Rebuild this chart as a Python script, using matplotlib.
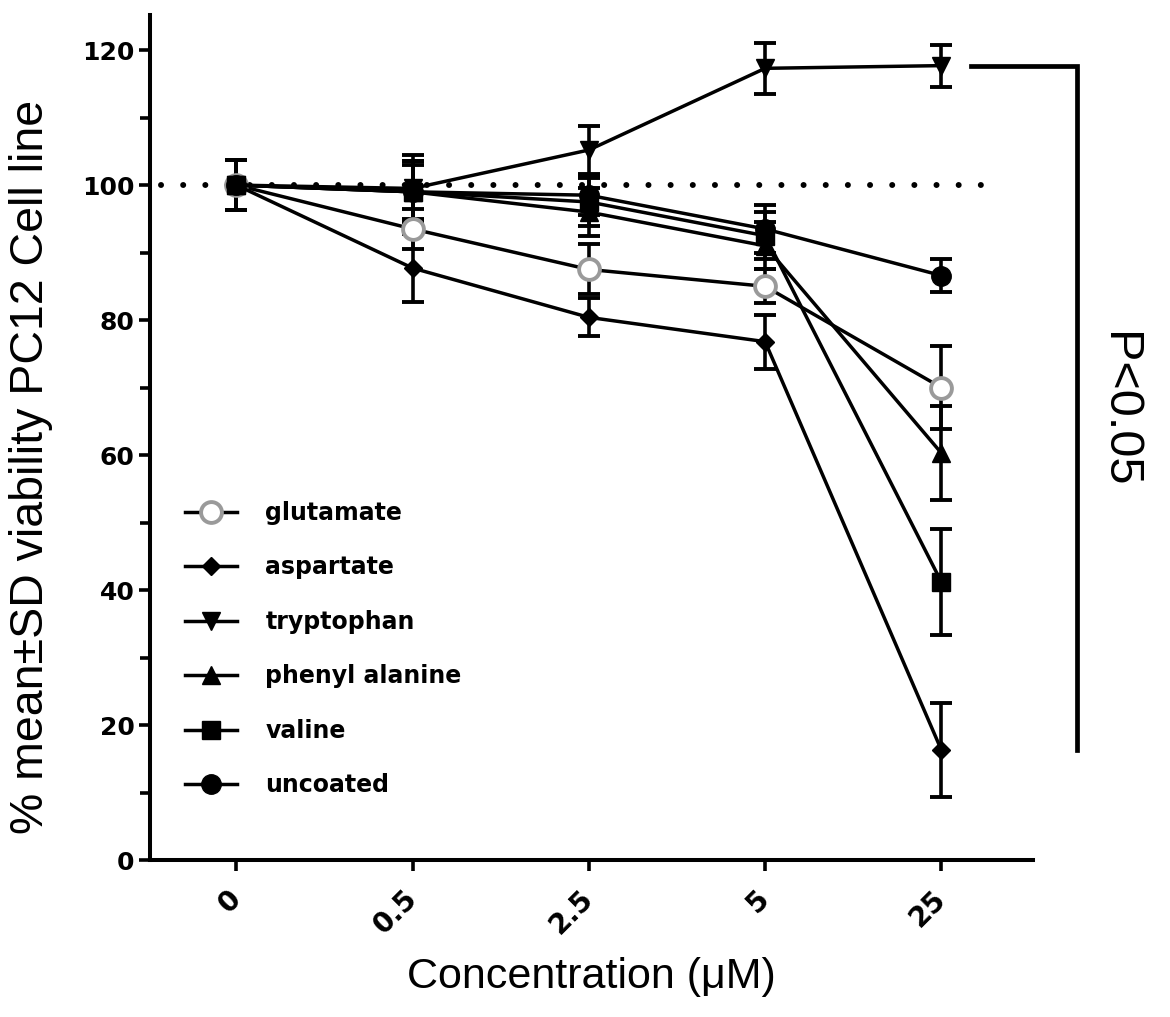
import matplotlib
matplotlib.use("Agg")
import matplotlib.pyplot as plt
from matplotlib.ticker import MultipleLocator

# ---- data ----
categories = ["0", "0.5", "2.5", "5", "25"]
series_names = ["glutamate", "aspartate", "tryptophan", "phenyl alanine", "valine", "uncoated"]
glutamate = [100, 93.5, 87.5, 85.0, 70.0]
glutamate_sd = [3.7, 3.0, 3.7, 2.5, 6.2]
aspartate = [100, 87.7, 80.4, 76.8, 16.3]
aspartate_sd = [3.7, 5.0, 2.8, 4.0, 7.0]
tryptophan = [100, 99.5, 105.2, 117.3, 117.7]
tryptophan_sd = [3.7, 5.0, 3.6, 3.8, 3.1]
phenyl_alanine = [100, 99.0, 96.0, 91.0, 60.3]
phenyl_alanine_sd = [3.7, 4.0, 3.5, 3.5, 7.0]
valine = [100, 99.0, 97.5, 92.5, 41.2]
valine_sd = [3.7, 4.5, 3.5, 3.5, 7.8]
uncoated = [100, 99.0, 98.5, 93.5, 86.6]
uncoated_sd = [3.7, 4.5, 3.0, 3.5, 2.5]
reference_level = 100
p_text = "P<0.05"

fig = plt.figure(figsize=(11.7, 10.17), dpi=100)
ax = fig.add_axes([150/1170, 1-860/1017, (1033-150)/1170, (860-15)/1017])

xs = list(range(len(categories)))
bold = "DejaVu Sans"
reg = "Liberation Sans"

styles = [
    (glutamate, glutamate_sd, dict(marker="o", ms=15, mfc="white", mec="#9a9a9a", mew=2.8)),
    (aspartate, aspartate_sd, dict(marker="D", ms=9, mfc="black", mec="black", mew=1)),
    (tryptophan, tryptophan_sd, dict(marker="v", ms=13, mfc="black", mec="black", mew=1)),
    (phenyl_alanine, phenyl_alanine_sd, dict(marker="^", ms=13, mfc="black", mec="black", mew=1)),
    (valine, valine_sd, dict(marker="s", ms=13, mfc="black", mec="black", mew=1)),
    (uncoated, uncoated_sd, dict(marker="o", ms=14, mfc="black", mec="black", mew=1)),
]

ax.plot([-0.43, 4.25], [reference_level, reference_level], linestyle=(0, (0.01, 3.7)),
        color="black", lw=4.3, dash_capstyle="round", zorder=1)

handles = []
for (vals, sd, st), name in zip(styles, series_names):
    ax.errorbar(xs, vals, yerr=sd, fmt="none", ecolor="black", elinewidth=2.6,
                capsize=8, capthick=2.8, zorder=2)
for (vals, sd, st), name in zip(styles, series_names):
    h, = ax.plot(xs, vals, color="black", lw=2.5, label=name, zorder=3, **st)
    handles.append(h)

ax.set_xlim(-0.49, 4.52)
ax.set_ylim(0, 125.2)
ax.set_xticks(xs)
ax.set_xticklabels(categories, rotation=45, ha="right", va="center", rotation_mode="anchor",
                   fontfamily=bold, fontweight="bold", fontsize=20)
ax.yaxis.set_major_locator(MultipleLocator(20))
ax.yaxis.set_minor_locator(MultipleLocator(10))
for lab in ax.get_yticklabels():
    lab.set_fontfamily(bold)
    lab.set_fontweight("bold")
    lab.set_fontsize(18)
ax.tick_params(axis="y", which="major", direction="out", length=8, width=2.6, pad=3)
ax.tick_params(axis="y", which="minor", direction="out", length=7, width=2.6)
ax.tick_params(axis="x", which="major", direction="out", length=8, width=2.6, pad=17)
for s in ["top", "right"]:
    ax.spines[s].set_visible(False)
for s in ["left", "bottom"]:
    ax.spines[s].set_linewidth(2.9)

ax.set_xlabel("Concentration (\u03bcM)", fontfamily=reg, fontsize=31)
ax.xaxis.set_label_coords(0.5, -(977 - 860) / 845, transform=ax.transAxes)
ax.xaxis.label.set_va("center")
ax.set_ylabel("% mean\u00b1SD viability PC12 Cell line", fontfamily=reg, fontsize=33.5)
ax.yaxis.set_label_coords(-(150 - 31) / 883, (860 - 467) / 845, transform=ax.transAxes)
ax.yaxis.label.set_va("center")

leg = ax.legend(handles=handles, loc="upper left", bbox_to_anchor=(185/1170, 1-501/1017),
                bbox_transform=fig.transFigure, frameon=False, borderpad=0, borderaxespad=0,
                handlelength=2.2, handletextpad=1.2, labelspacing=1.29,
                prop=dict(family=bold, weight="bold", size=17))

# significance bracket
last = xs[-1]
top_y = tryptophan[-1]
bot_y = aspartate[-1]
ax.plot([last + 0.17, last + 0.77, last + 0.77], [top_y, top_y, bot_y], color="black",
        lw=3.4, clip_on=False, solid_joinstyle="miter", zorder=4)
fig.text(1118/1170, 1-410/1017, p_text, rotation=-90, ha="center", va="center",
         fontfamily=reg, fontsize=35)

fig.savefig("out.png", dpi=100)
